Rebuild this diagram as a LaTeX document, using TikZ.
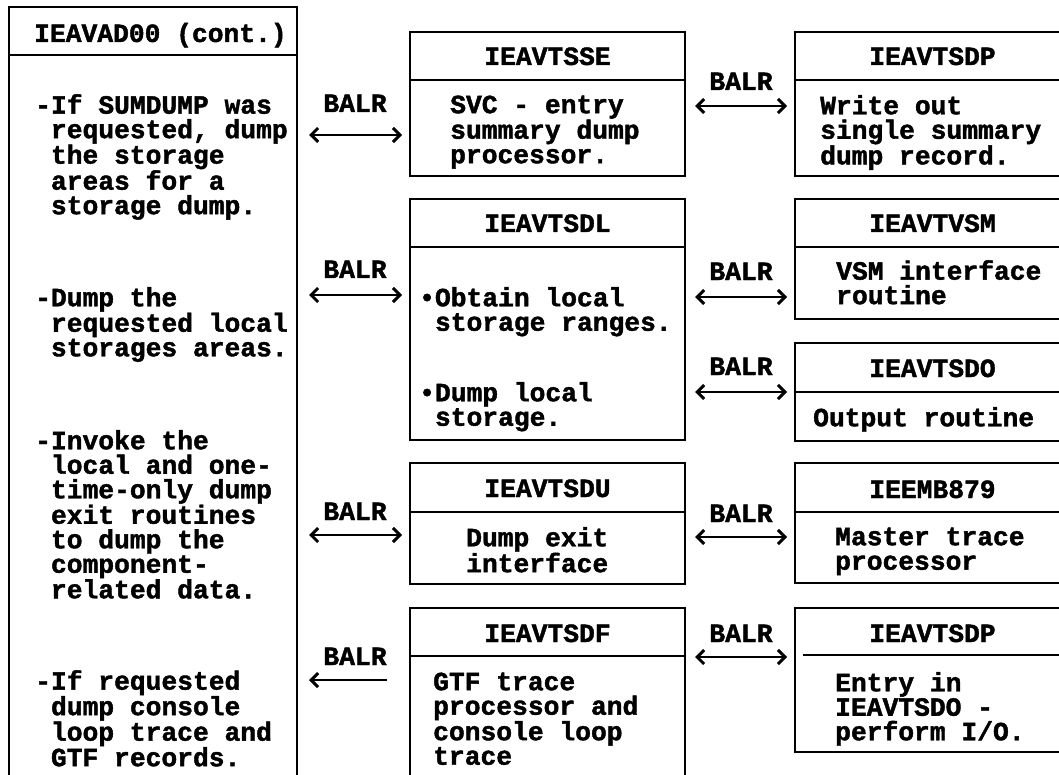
\documentclass[tikz,border=0pt]{standalone}
\usepackage{fontspec}
\newfontfamily\mfont{Liberation Mono Bold}[FakeBold=1.6]
\usetikzlibrary{arrows.meta}
\newcommand\fst{\rule{0pt}{18pt}}
\newcommand\hi{\hphantom{-}}
\newcommand\hb{\hphantom{•}}
\begin{document}
\begin{tikzpicture}[x=1pt,y=-1pt,
  box/.style={draw, line width=2.8pt, inner sep=0pt, outer sep=0pt, anchor=north west},
  div/.style={line width=2.4pt},
  fnt/.style={font=\mfont\fontsize{26.3}{24.5}\selectfont},
  txt/.style={fnt, inner sep=0pt, align=left, anchor=north west},
  hdr/.style={fnt, inner sep=0pt, anchor=base},
  lbl/.style={fnt, inner sep=0pt, anchor=base},
  tip/.tip={Straight Barb[length=7pt,width=14pt,line width=3pt]},
  link/.style={line width=2pt, tip-tip},
  linkl/.style={line width=2pt, tip-}]
\useasboundingbox (0,0) rectangle (1059,775);
\fill[white] (0,0) rectangle (1059,775);
\clip (0,0) rectangle (1059,775);

% boxes
\node[box, minimum width=288pt, minimum height=800pt] (main) at (9,7) {};
\node[box, minimum width=275pt, minimum height=144pt] (sse) at (410,32) {};
\node[box, minimum width=275pt, minimum height=241pt] (sdl) at (410,199) {};
\node[box, minimum width=275pt, minimum height=121pt] (sdu) at (410,463) {};
\node[box, minimum width=275pt, minimum height=200pt] (sdf) at (410,608) {};
\node[box, minimum width=275pt, minimum height=144pt] (sdpa) at (795,32) {};
\node[box, minimum width=275pt, minimum height=120pt] (vsm) at (795,199) {};
\node[box, minimum width=275pt, minimum height=98pt] (sdo) at (795,343) {};
\node[box, minimum width=275pt, minimum height=120pt] (mb) at (795,463) {};
\node[box, minimum width=275pt, minimum height=144pt] (sdpb) at (795,608) {};

% dividers
\draw[div] (main.west |- 0,55) -- (main.east |- 0,55);
\draw[div] (sse.west |- 0,80) -- (sse.east |- 0,80);
\draw[div] (sdl.west |- 0,247) -- (sdl.east |- 0,247);
\draw[div] (sdu.west |- 0,512) -- (sdu.east |- 0,512);
\draw[div] (sdf.west |- 0,656) -- (sdf.east |- 0,656);
\draw[div] (sdpa.west |- 0,80) -- (sdpa.east |- 0,80);
\draw[div] (vsm.west |- 0,247) -- (vsm.east |- 0,247);
\draw[div] (sdo.west |- 0,392) -- (sdo.east |- 0,392);
\draw[div] (mb.west |- 0,512) -- (mb.east |- 0,512);
\draw[div] ([xshift=8pt]sdpb.west |- 0,655) -- (sdpb.east |- 0,655);

% headers
\node[hdr, anchor=base west] (mainh) at (34,42) {IEAVAD00 (cont.)};
\node[hdr] (sseh) at (sse.north |- 0,65) {IEAVTSSE};
\node[hdr] (sdlh) at (sdl.north |- 0,232) {IEAVTSDL};
\node[hdr] (sduh) at (sdu.north |- 0,497) {IEAVTSDU};
\node[hdr] (sdfh) at (sdf.north |- 0,642) {IEAVTSDF};
\node[hdr] (sdpah) at (sdpa.north |- 0,65) {IEAVTSDP};
\node[hdr] (vsmh) at (vsm.north |- 0,232) {IEAVTVSM};
\node[hdr] (sdoh) at (sdo.north |- 0,377) {IEAVTSDO};
\node[hdr] (mbh) at (mb.north |- 0,498) {IEEMB879};
\node[hdr] (sdpbh) at (sdpb.north |- 0,642) {IEAVTSDP};

% left body
\node[txt] (m1) at (35,94) {\fst-If SUMDUMP was\\\hi requested, dump\\\hi the storage\\\hi areas for a\\\hi storage dump.};
\node[txt] (m2) at (35,287) {\fst-Dump the\\\hi requested local\\\hi storages areas.};
\node[txt] (m3) at (35,430) {\fst-Invoke the\\\hi local and one-\\\hi time-only dump\\\hi exit routines\\\hi to dump the\\\hi component-\\\hi related data.};
\node[txt] (m4) at (35,670) {\fst-If requested\\\hi dump console\\\hi loop trace and\\\hi GTF records.};

% middle body
\node[txt] (sseb) at (450,95) {\fst SVC - entry\\summary dump\\processor.};
\node[txt] (sdlb1) at (419,287) {\fst•Obtain local\\\hb storage ranges.};
\node[txt] (sdlb2) at (419,382) {\fst•Dump local\\\hb storage.};
\node[txt] (sdub) at (466,527) {\fst Dump exit\\interface};
\node[txt] (sdfb) at (433,672) {\fst GTF trace\\processor and\\console loop\\trace};

% right body
\node[txt] (sdpab) at (820,95) {\fst Write out\\single summary\\dump record.};
\node[txt] (vsmb) at (836,260) {\fst VSM interface\\routine};
\node[txt] (sdob) at (813,407) {\fst Output routine};
\node[txt] (mbb) at (835,527) {\fst Master trace\\processor};
\node[txt] (sdpbb) at (835,672) {\fst Entry in\\IEAVTSDO -\\perform I/O.};

% connector end points
\coordinate (a1l) at (309,135); \coordinate (a1r) at (402,135);
\coordinate (a2l) at (309,295); \coordinate (a2r) at (402,295);
\coordinate (a3l) at (309,535); \coordinate (a3r) at (402,535);
\coordinate (a4l) at (309,680); \coordinate (a4r) at (387,680);
\coordinate (b1l) at (695,106); \coordinate (b1r) at (787,106);
\coordinate (b2l) at (695,297); \coordinate (b2r) at (787,297);
\coordinate (b3l) at (695,392); \coordinate (b3r) at (787,392);
\coordinate (b4l) at (695,537); \coordinate (b4r) at (787,537);
\coordinate (b5l) at (695,657); \coordinate (b5r) at (787,657);

\draw[link] (a1l) -- (a1r);
\draw[link] (a2l) -- (a2r);
\draw[link] (a3l) -- (a3r);
\draw[linkl] (a4l) -- (a4r);
\draw[link] (b1l) -- (b1r);
\draw[link] (b2l) -- (b2r);
\draw[link] (b3l) -- (b3r);
\draw[link] (b4l) -- (b4r);
\draw[link] (b5l) -- (b5r);

% labels
\node[lbl] (la1) at (355,112) {BALR};
\node[lbl] (la2) at (355,278) {BALR};
\node[lbl] (la3) at (355,520) {BALR};
\node[lbl] (la4) at (355,665) {BALR};
\node[lbl] (lb1) at (741,90) {BALR};
\node[lbl] (lb2) at (741,280) {BALR};
\node[lbl] (lb3) at (741,375) {BALR};
\node[lbl] (lb4) at (741,522) {BALR};
\node[lbl] (lb5) at (741,642) {BALR};
\end{tikzpicture}
\end{document}
